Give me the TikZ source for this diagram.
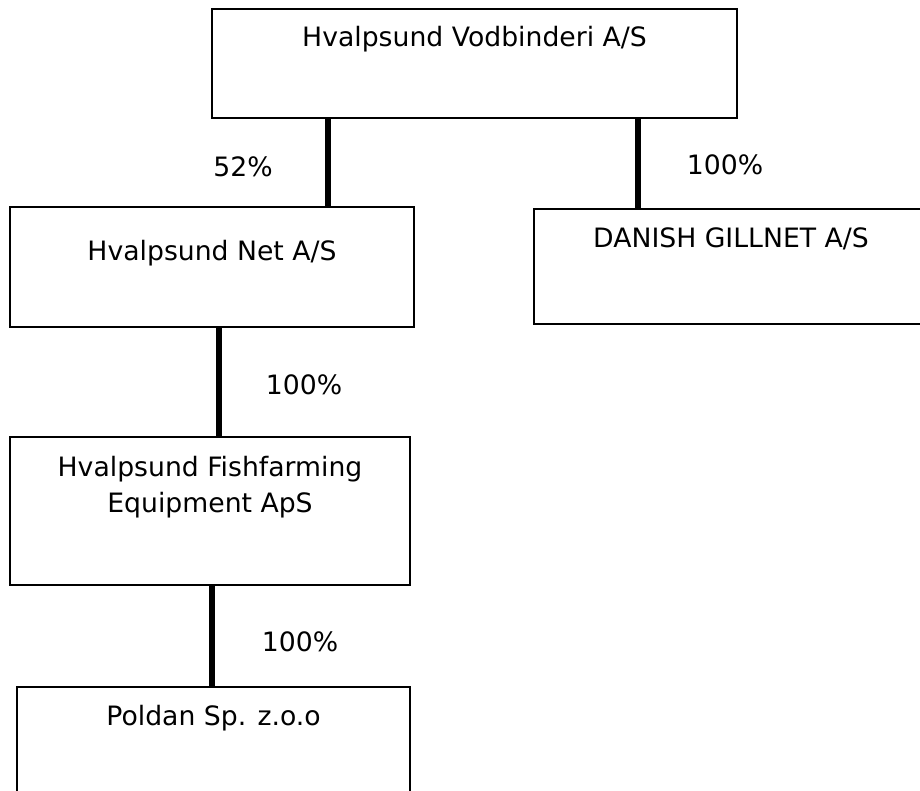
\documentclass[tikz,border=0pt]{standalone}
\usepackage{fontspec}
\setmainfont{DejaVu Sans}
\tikzset{
  box/.style={draw, line width=2.2pt, rectangle, inner sep=0pt},
  link/.style={draw, line width=4.2pt},
  txt/.style={inner sep=0pt, anchor=base, align=center, font=\fontsize{20}{27}\selectfont},
}
\begin{document}
\begin{tikzpicture}[x=0.75pt,y=-0.75pt]
      \useasboundingbox (0,0) rectangle (920,790);
      \clip (0,0) rectangle (920,790);

      \node[box, minimum width=525*0.75pt, minimum height=109*0.75pt](vodb) at (474.5,63.5){};
      \node[box, minimum width=404*0.75pt, minimum height=120*0.75pt](net) at (212,267){};
      \node[box, minimum width=394*0.75pt, minimum height=115*0.75pt](gill) at (731,266.5){};
      \node[box, minimum width=400*0.75pt, minimum height=148*0.75pt](fish) at (210,511){};
      \node[box, minimum width=393*0.75pt, minimum height=150*0.75pt](poldan) at (213.5,762){};

      \node[txt](vodbname) at (474.5,46.7){Hvalpsund Vodbinderi A/S};
      \node[txt](netname) at (212,260){Hvalpsund Net A/S};
      \node[txt](gillname) at (731,247){DANISH GILLNET A/S};
      \node[txt](fishname) at (210,512){Hvalpsund Fishfarming\\Equipment ApS};
      \node[txt](poldanname) at (213.5,725){Poldan Sp. z.o.o};

      % connectors
      \coordinate(c1) at (328,0);
      \coordinate(c2) at (638,0);
      \coordinate(c3) at (219,0);
      \coordinate(c4) at (212,0);
      \draw[link] (vodb.south -| c1) -- (net.north -| c1);
      \draw[link] (vodb.south -| c2) -- (gill.north -| c2);
      \draw[link] (net.south -| c3) -- (fish.north -| c3);
      \draw[link] (fish.south -| c4) -- (poldan.north -| c4);

      \node[txt, anchor=center](p1) at (243,167){52\%};
      \node[txt, anchor=center](p2) at (725,165){100\%};
      \node[txt, anchor=center](p3) at (304,385){100\%};
      \node[txt, anchor=center](p4) at (300,642){100\%};

    \end{tikzpicture}
\end{document}
